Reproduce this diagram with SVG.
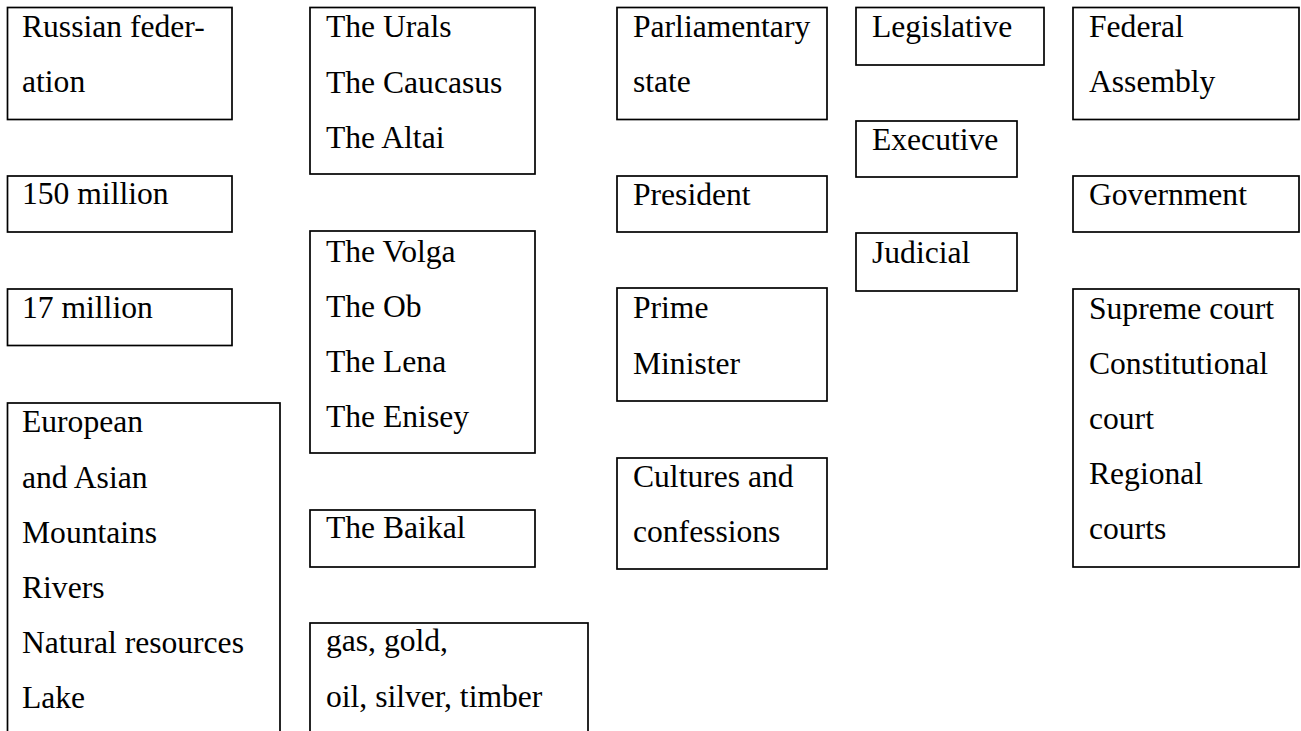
<svg xmlns="http://www.w3.org/2000/svg" width="1301" height="731" viewBox="0 0 1301 731">
<style>
rect.b{fill:#fff;stroke:#000;stroke-width:1.7}
text{font-family:"Liberation Serif","Times New Roman",serif;font-size:31.6px;fill:#000}
</style>
<rect width="1301" height="731" fill="#fff"/>
<g id="connectors"></g>
<g id="russia"><rect class="b" x="7.5" y="7.5" width="224.5" height="112"/><text x="22" y="37">Russian feder-</text><text x="22" y="92">ation</text></g>
<g id="pop150"><rect class="b" x="7.5" y="176" width="224.5" height="56"/><text x="22" y="204">150 million</text></g>
<g id="pop17"><rect class="b" x="7.5" y="289" width="224.5" height="56.5"/><text x="22" y="318">17 million</text></g>
<g id="european"><rect class="b" x="7.5" y="403" width="272.5" height="340"/><text x="22" y="432">European</text><text x="22" y="488">and Asian</text><text x="22" y="543">Mountains</text><text x="22" y="598">Rivers</text><text x="22" y="653">Natural resources</text><text x="22" y="708">Lake</text></g>
<g id="mountains"><rect class="b" x="310" y="7.5" width="225" height="166.5"/><text x="326" y="37">The Urals</text><text x="326" y="93">The Caucasus</text><text x="326" y="148">The Altai</text></g>
<g id="rivers"><rect class="b" x="310" y="231" width="225" height="222"/><text x="326" y="262">The Volga</text><text x="326" y="317">The Ob</text><text x="326" y="372">The Lena</text><text x="326" y="427">The Enisey</text></g>
<g id="baikal"><rect class="b" x="310" y="510" width="225" height="57"/><text x="326" y="538">The Baikal</text></g>
<g id="resources"><rect class="b" x="310" y="623" width="278" height="150"/><text x="326" y="651">gas, gold,</text><text x="326" y="707">oil, silver, timber</text></g>
<g id="parliamentary"><rect class="b" x="617" y="7.5" width="210" height="112"/><text x="633" y="37">Parliamentary</text><text x="633" y="92">state</text></g>
<g id="president"><rect class="b" x="617" y="176" width="210" height="56"/><text x="633" y="205">President</text></g>
<g id="prime"><rect class="b" x="617" y="288" width="210" height="113"/><text x="633" y="318">Prime</text><text x="633" y="374">Minister</text></g>
<g id="cultures"><rect class="b" x="617" y="458" width="210" height="111"/><text x="633" y="487">Cultures and</text><text x="633" y="542">confessions</text></g>
<g id="legislative"><rect class="b" x="856" y="7.5" width="188" height="57.5"/><text x="872" y="37">Legislative</text></g>
<g id="executive"><rect class="b" x="856" y="121" width="161" height="56"/><text x="872" y="150">Executive</text></g>
<g id="judicial"><rect class="b" x="856" y="233" width="161" height="58"/><text x="872" y="263">Judicial</text></g>
<g id="federal"><rect class="b" x="1073" y="7.5" width="226" height="112"/><text x="1089" y="37">Federal</text><text x="1089" y="92">Assembly</text></g>
<g id="government"><rect class="b" x="1073" y="176" width="226" height="56"/><text x="1089" y="205">Government</text></g>
<g id="courts"><rect class="b" x="1073" y="289" width="226" height="278"/><text x="1089" y="319">Supreme court</text><text x="1089" y="374">Constitutional</text><text x="1089" y="429">court</text><text x="1089" y="484">Regional</text><text x="1089" y="539">courts</text></g>
</svg>
